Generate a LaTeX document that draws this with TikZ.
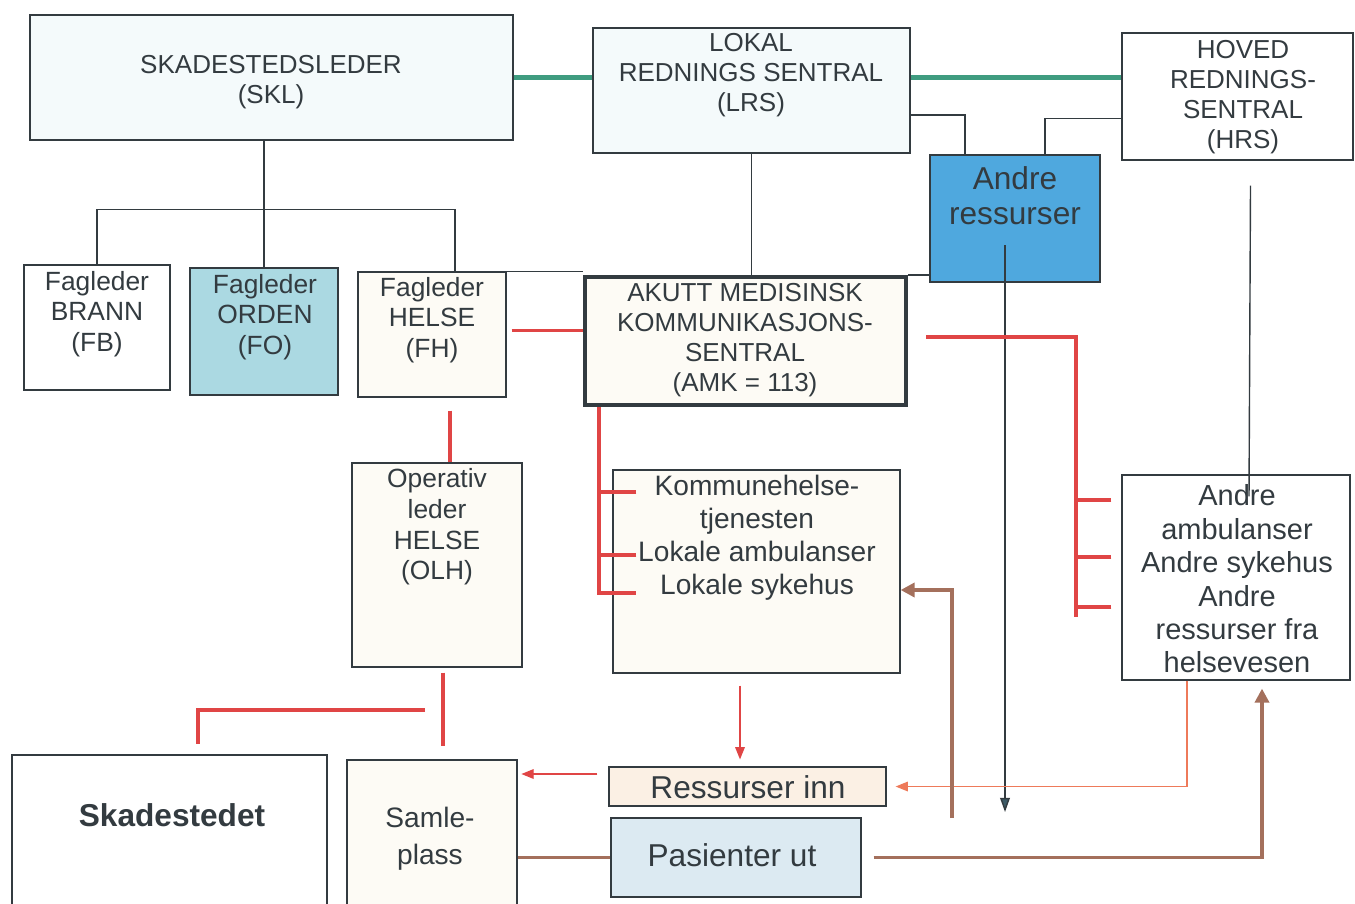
\documentclass[tikz,border=0pt]{standalone}
\usepackage{fontspec}
\setmainfont{Liberation Sans}
\usetikzlibrary{arrows.meta,fit,calc}
\newdimen\pxu \pxu=0.02cm
\definecolor{tgreen}{HTML}{3F9C80}
\definecolor{tred}{HTML}{E04545}
\definecolor{tbrown}{HTML}{A4705C}
\definecolor{tblue}{HTML}{4FA8DE}
\definecolor{tcyan}{HTML}{ABD9E2}
\definecolor{tdark}{HTML}{333B40}
\definecolor{tpeach}{HTML}{FBF0E4}
\definecolor{tpale}{HTML}{DCEAF2}
\definecolor{tcream}{HTML}{FDFBF5}
\definecolor{tice}{HTML}{F4FAFB}
\definecolor{torange}{HTML}{EE7A5A}
\definecolor{tarrow}{HTML}{3C5A66}
\begin{document}
\begin{tikzpicture}[x=0.02cm,y=-0.02cm,
  box/.style={draw=tdark, line width=0.7pt, inner sep=0pt},
  txt/.style={text=tdark, align=center, inner sep=0pt},
  fcap/.style={font=\fontsize{14.8}{17}\selectfont},
  fmid/.style={font=\fontsize{15}{17.4}\selectfont},
  fkom/.style={font=\fontsize{16}{18.8}\selectfont},
  famb/.style={font=\fontsize{16.5}{19}\selectfont},
  fbig/.style={font=\fontsize{18}{20}\selectfont},
  greenline/.style={draw=tgreen, line width=2.8pt},
  redline/.style={draw=tred, line width=2.2pt},
  brownline/.style={draw=tbrown, line width=2.2pt},
  thinline/.style={draw=tdark, line width=0.8pt},
  redarrow/.style={draw=tred, line width=0.7pt, -{Triangle[length=7pt,width=5.5pt]}},
  orangearrow/.style={draw=torange, line width=0.7pt, -{Triangle[length=7pt,width=5.5pt]}},
  brownarrow/.style={draw=tbrown, line width=2.2pt, -{Triangle[length=8pt,width=8pt]}},
  darkarrow/.style={draw=tdark, line width=0.8pt, -{Triangle[length=8pt,width=5.5pt,fill=tarrow]}}
]
\useasboundingbox[fill=white] (0,0) rectangle (1355,903);

% boxes
\node[box, fill=tice, fit={(30,15) (513,140)}] (skl) {};
\node[box, fill=tice, fit={(593,28) (910,153)}] (lrs) {};
\node[box, fill=white, fit={(1122,33) (1353,160)}] (hrs) {};
\node[box, fill=tblue, fit={(930,155) (1100,282)}] (andre) {};
\node[box, fill=white, fit={(24,265) (170,390)}] (fb) {};
\node[box, fill=tcyan, fit={(190,268) (338,395)}] (fo) {};
\node[box, fill=tcream, fit={(358,272) (506,397)}] (fh) {};
\node[box, fill=tcream, line width=2.4pt, fit={(585,277) (906,405)}] (amk) {};
\node[box, fill=tcream, fit={(352,463) (522,667)}] (olh) {};
\node[box, fill=tcream, fit={(613,470) (900,673)}] (kom) {};
\node[box, fill=white, fit={(1122,475) (1350,680)}] (aam) {};
\node[box, fill=white, fit={(12,755) (327,910)}] (sks) {};
\node[box, fill=tcream, fit={(347,760) (517,910)}] (sam) {};
\node[box, fill=tpeach, fit={(609,767) (886,806)}] (rin) {};
\node[box, fill=tpale, fit={(611,818) (861,897)}] (put) {};

% texts
\node[txt, fcap] (sklT) at (271,82) {SKADESTEDSLEDER\\(SKL)};
\node[txt, fcap] (lrsT) at (751,75) {LOKAL\\REDNINGS SENTRAL\\(LRS)};
\node[txt, fcap] (hrsT) at (1243,97) {HOVED\\REDNINGS-\\SENTRAL\\(HRS)};
\node[txt, fbig] (andreT) at (1015,196) {Andre\\ressurser};
\node[txt, fmid] (fbT) at (97,314) {Fagleder\\BRANN\\(FB)};
\node[txt, fmid] (foT) at (265,317) {Fagleder\\ORDEN\\(FO)};
\node[txt, fmid] (fhT) at (432,320) {Fagleder\\HELSE\\(FH)};
\node[txt, fcap] (amkT) at (745,340) {AKUTT MEDISINSK\\KOMMUNIKASJONS-\\SENTRAL\\(AMK = 113)};
\node[txt, fmid] (olhT) at (437,527) {Operativ\\leder\\HELSE\\(OLH)};
\node[txt, fkom] (komT) at (757,538) {Kommunehelse-\\tjenesten\\Lokale ambulanser\\Lokale sykehus};
\node[txt, famb] (aamT) at (1237,579) {Andre\\ambulanser\\Andre sykehus\\Andre\\ressurser fra\\helsevesen};
\node[txt, fbig, font=\fontsize{18}{20}\selectfont\bfseries] (sksT) at (172,815) {Skadestedet};
\node[txt, font=\fontsize{16}{21}\selectfont] (samT) at (430,839) {Samle-\\plass};
\node[txt, fbig] (rinT) at (748,787) {Ressurser inn};
\node[txt, fbig] (putT) at (732,855) {Pasienter ut};

% green links
\draw[greenline] (skl.east) -- (skl.east -| lrs.west);
\draw[greenline] (lrs.east |- skl.east) -- (hrs.west |- skl.east);

% thin dark links
\draw[thinline] ([yshift=-24.5\pxu]lrs.east) -| ([xshift=-50\pxu]andre.north);
\draw[thinline] ([yshift=-22\pxu]hrs.west) -| ([xshift=30\pxu]andre.north);
\draw[thinline] (fo.north |- skl.south) -- (fo.north);
\draw[thinline] (fb.north) -- ++(0,-55) -| ([xshift=23\pxu]fh.north);
\draw[thinline] (lrs.south) -- (lrs.south |- amk.north);
\draw[thinline] (fh.north east) -- (fh.north east -| amk.north west);
\draw[thinline] (amk.north east) -- (amk.north east -| andre.south west);
\draw[thinline] ([xshift=13\pxu,yshift=-25\pxu]hrs.south) -- ([xshift=13\pxu,yshift=-22\pxu]aam.north);
\draw[darkarrow] ([xshift=-10\pxu,yshift=-26.5\pxu]andre.center) -- ++(0,567);

% red links
\draw[redline] ([xshift=5\pxu,yshift=4\pxu]fh.east) -- ([yshift=4\pxu]fh.east -| amk.west);
\draw[redline] ([xshift=18\pxu,yshift=-13\pxu]fh.south) -- ([xshift=18\pxu]fh.south |- olh.north);
\draw[redline] ([xshift=6\pxu,yshift=-5\pxu]olh.south) -- ++(0,73);
\coordinate (hook) at (425,710);
\draw[redline] (hook) -| ([xshift=28.5\pxu,yshift=10\pxu]sks.north);
\draw[redline] ([xshift=16\pxu]amk.south west) |- ([xshift=24\pxu,yshift=-21.5\pxu]kom.west);
\draw[redline] ([xshift=24\pxu,yshift=79.5\pxu]kom.west) -- ++(-36,0);
\draw[redline] ([xshift=24\pxu,yshift=16.5\pxu]kom.west) -- ++(-36,0);
\draw[redline] ([xshift=18\pxu,yshift=4\pxu]amk.east) -| ([xshift=-45\pxu,yshift=-39.5\pxu]aam.west);
\draw[redline] ([xshift=-10\pxu,yshift=77.5\pxu]aam.west) -- ++(-35,0);
\draw[redline] ([xshift=-10\pxu,yshift=20.5\pxu]aam.west) -- ++(-35,0);
\draw[redline] ([xshift=-10\pxu,yshift=-29.5\pxu]aam.west) -- ++(-35,0);

% thin arrows
\draw[redarrow] ([xshift=-16.5\pxu,yshift=-12\pxu]kom.south) -- ([xshift=-7.5\pxu,yshift=7\pxu]rin.north);
\draw[redarrow] ([xshift=-11\pxu,yshift=12.5\pxu]rin.west) -- ++(-76,0);
\draw[orangearrow] ([xshift=-49\pxu]aam.south) |- ([xshift=9\pxu]rin.east);

% brown links
\draw[brownline] (put.west -| sam.east) -- (put.west);
\draw[brownarrow] ([xshift=12\pxu]put.east) -| ([xshift=26\pxu,yshift=-8\pxu]aam.south);
\coordinate (bstart) at (952,818);
\draw[brownarrow] (bstart) |- ([yshift=-18.5\pxu]kom.east);
\end{tikzpicture}
\end{document}
